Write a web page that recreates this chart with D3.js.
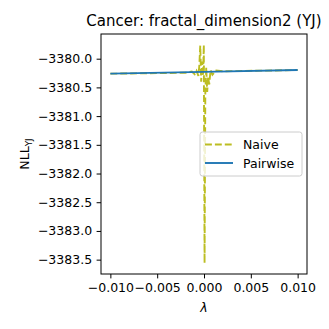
<!DOCTYPE html>
<html>
<head>
<meta charset="utf-8">
<script src="https://cdn.jsdelivr.net/npm/d3@7"></script>
<style>
  html, body { margin: 0; padding: 0; background: #fff; }
  text { font-family: "DejaVu Sans", sans-serif; fill: #000; }
</style>
</head>
<body>
<div id="chart"></div>
<script>
// data
const pairwiseLambda = [-0.010, 0.000, 0.010];
const pairwiseNLL = [-3380.261, -3380.229, -3380.198];

const naiveLambda = [-0.0100, -0.0020, -0.0013, -0.0010, -0.0008, -0.0006, -0.0005, -0.0004, -0.0003, -0.0002,
  -0.0001, -0.00002, 0.00006, 0.00014, 0.00024, 0.00034, 0.00044, 0.00056, 0.00070, 0.00090, 0.0013, 0.0020, 0.0100];
const naiveNLL = [-3380.261, -3380.245, -3380.225, -3380.27, -3380.21, -3380.30, -3380.12, -3379.77, -3380.40, -3380.05,
  -3380.30, -3379.76, -3383.56, -3380.60, -3380.15, -3380.58, -3380.32, -3380.45, -3380.20, -3380.28, -3380.205, -3380.22, -3380.198];

const xTicks = [-0.010, -0.005, 0.000, 0.005, 0.010];
const yTicks = [-3380.0, -3380.5, -3381.0, -3381.5, -3382.0, -3382.5, -3383.0, -3383.5];

const titleText = "Cancer: fractal_dimension2 (YJ)";
const legendNames = ["Naive", "Pairwise"];

let width = 329, height = 329,
    margin = {left: 101, right: 22, top: 34, bottom: 55};

let svg = d3.select("#chart").append("svg")
  .attr("width", width)
  .attr("height", height)
  .attr("viewBox", `0 0 ${width} ${height}`);

let naive = naiveLambda.map((l, i) => ({x: l, y: naiveNLL[i]}));
let pairwise = pairwiseLambda.map((l, i) => ({x: l, y: pairwiseNLL[i]}));
let all = naive.concat(pairwise);

// matplotlib-like 5% margins
function padded(ext) {
  let r = ext[1] - ext[0];
  return [ext[0] - 0.05 * r, ext[1] + 0.05 * r];
}

let x = d3.scaleLinear()
  .domain(padded(d3.extent(all, d => d.x)))
  .range([margin.left, width - margin.right]);
let y = d3.scaleLinear()
  .domain(padded(d3.extent(all, d => d.y)))
  .range([height - margin.bottom, margin.top]);

let minus = s => s.replace("-", "\u2212");

let fontSize = 12.5;

// lines
let line = d3.line().x(d => x(d.x)).y(d => y(d.y));

svg.append("path")
  .datum(naive)
  .attr("d", line)
  .attr("fill", "none")
  .attr("stroke", "#bcbd22")
  .attr("stroke-width", 1.9)
  .attr("stroke-dasharray", "6.9,3");

svg.append("path")
  .datum(pairwise)
  .attr("d", line)
  .attr("fill", "none")
  .attr("stroke", "#1f77b4")
  .attr("stroke-width", 1.9);

// axes
let xAxis = d3.axisBottom(x).tickValues(xTicks)
  .tickFormat(d => minus(d3.format(".3f")(d)))
  .tickSizeInner(4.4).tickSizeOuter(0).tickPadding(4.5);
let yAxis = d3.axisLeft(y).tickValues(yTicks)
  .tickFormat(d => minus(d3.format(".1f")(d)))
  .tickSizeInner(4.4).tickSizeOuter(0).tickPadding(4.5);

let gx = svg.append("g")
  .attr("transform", `translate(0,${height - margin.bottom})`)
  .call(xAxis);
let gy = svg.append("g")
  .attr("transform", `translate(${margin.left},0)`)
  .call(yAxis);

[gx, gy].forEach(g => {
  g.select(".domain").remove();
  g.selectAll("line").attr("stroke", "#000").attr("stroke-width", 1);
  g.selectAll("text")
    .attr("font-family", "DejaVu Sans, sans-serif")
    .attr("font-size", fontSize)
    .attr("fill", "#000");
});

// frame
svg.append("rect")
  .attr("x", margin.left)
  .attr("y", margin.top)
  .attr("width", width - margin.left - margin.right)
  .attr("height", height - margin.top - margin.bottom)
  .attr("fill", "none")
  .attr("stroke", "#000")
  .attr("stroke-width", 1);

// title and labels
svg.append("text")
  .attr("x", (margin.left + width - margin.right) / 2)
  .attr("y", 26)
  .attr("text-anchor", "middle")
  .attr("font-size", 15)
  .text(titleText);

svg.append("text")
  .attr("x", (margin.left + width - margin.right) / 2)
  .attr("y", 312)
  .attr("text-anchor", "middle")
  .attr("font-size", fontSize)
  .attr("font-style", "italic")
  .text("\u03bb");

let yl = svg.append("text")
  .attr("transform", `translate(29,${(margin.top + height - margin.bottom) / 2}) rotate(-90)`)
  .attr("text-anchor", "middle")
  .attr("font-size", fontSize);
yl.append("tspan").text("NLL");
yl.append("tspan").attr("font-size", 8.8).attr("dy", 2.5).text("YJ");

// legend
let lg = svg.append("g").attr("transform", "translate(200,132)");
lg.append("rect")
  .attr("width", 102)
  .attr("height", 44)
  .attr("rx", 2.5)
  .attr("fill", "#fff")
  .attr("fill-opacity", 0.8)
  .attr("stroke", "#cccccc")
  .attr("stroke-width", 1);

let legendStyles = [
  {color: "#bcbd22", dash: "6.9,3"},
  {color: "#1f77b4", dash: null}
];

legendNames.forEach(function(name, i) {
  let yy = 12.5 + i * 18.5;
  lg.append("line")
    .attr("x1", 5).attr("x2", 33)
    .attr("y1", yy).attr("y2", yy)
    .attr("stroke", legendStyles[i].color)
    .attr("stroke-width", 1.9)
    .attr("stroke-dasharray", legendStyles[i].dash);
  lg.append("text")
    .attr("x", 43)
    .attr("y", yy + 4.5)
    .attr("font-size", fontSize)
    .text(name);
});
</script>
</body>
</html>
